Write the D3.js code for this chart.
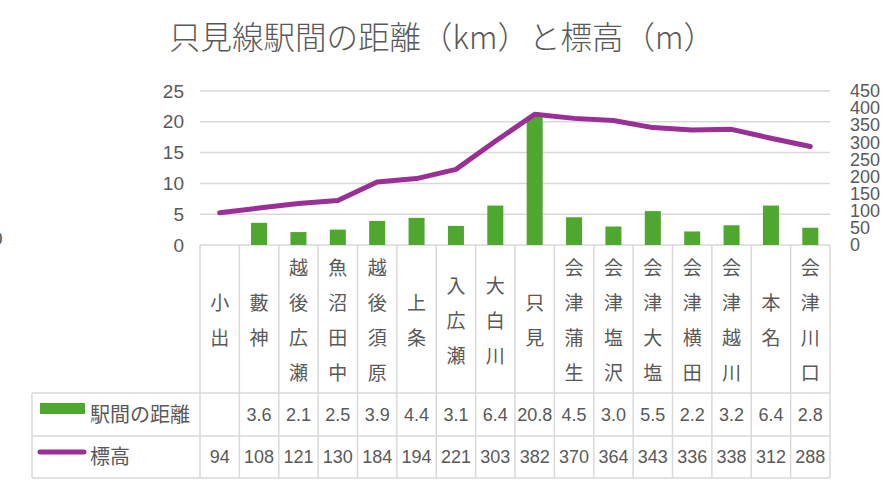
<html>
<head>
<meta charset="utf-8">
<script src="https://cdn.jsdelivr.net/npm/d3@7"></script>
<style>
  body { margin: 0; background: #fff; }
  text { fill: #595959; }
</style>
</head>
<body>
<div id="chart"></div>
<script>
var stations = ["小出","藪神","越後広瀬","魚沼田中","越後須原","上条","入広瀬","大白川","只見","会津蒲生","会津塩沢","会津大塩","会津横田","会津越川","本名","会津川口"];
var distance = [null,3.6,2.1,2.5,3.9,4.4,3.1,6.4,20.8,4.5,3.0,5.5,2.2,3.2,6.4,2.8];
var elevation = [94,108,121,130,184,194,221,303,382,370,364,343,336,338,312,288];
var leftTicks = [0,5,10,15,20,25];
var rightTicks = [0,50,100,150,200,250,300,350,400,450];

var W = 886, H = 483;
var green = "#4ea72e", purple = "#9a2f96", gridc = "#d9d9d9";
var jp = "'Noto Sans CJK JP', sans-serif", lat = "'Liberation Sans', Arial, sans-serif";

var svg = d3.select("#chart").append("svg").attr("width", W).attr("height", H);

var x = d3.scaleBand().domain(stations).range([200, 830]);
var yL = d3.scaleLinear().domain([0, 25]).range([245, 91]);
var yR = d3.scaleLinear().domain([0, 450]).range([245, 91]);

// title
svg.append("text").attr("x", 442).attr("y", 49).attr("text-anchor", "middle")
  .style("font-family", jp).style("font-size", "31.5px").style("font-weight", 300)
  .text("只見線駅間の距離（km）と標高（m）");

// stray clipped label at left edge
svg.append("text").attr("x", -8).attr("y", 245)
  .style("font-family", lat).style("font-size", "19px").text("0");

// gridlines
svg.append("g").selectAll("line").data(leftTicks).enter().append("line")
  .attr("x1", 200).attr("x2", 830)
  .attr("y1", function(d){ return yL(d); }).attr("y2", function(d){ return yL(d); })
  .attr("stroke", gridc).attr("stroke-width", 1.5);

// left axis
var axL = svg.append("g").attr("transform", "translate(190,0)")
  .call(d3.axisLeft(yL).tickValues(leftTicks).tickSize(0).tickPadding(6));
axL.select(".domain").remove();
axL.selectAll("text").style("font-family", lat).style("font-size", "19px").style("fill", "#595959");

// right axis
var axR = svg.append("g").attr("transform", "translate(850,0)")
  .call(d3.axisRight(yR).tickValues(rightTicks).tickSize(0).tickPadding(0));
axR.select(".domain").remove();
axR.selectAll("text").style("font-family", lat).style("font-size", "18px").style("fill", "#595959");

// bars
svg.append("g").selectAll("rect").data(stations).enter()
  .filter(function(d, i){ return distance[i] != null; })
  .append("rect")
  .attr("x", function(d){ return x(d) + x.bandwidth()/2 - 8; })
  .attr("width", 16)
  .attr("y", function(d){ return yL(distance[stations.indexOf(d)]); })
  .attr("height", function(d){ return yL(0) - yL(distance[stations.indexOf(d)]); })
  .attr("fill", green);

// line
var line = d3.line()
  .x(function(d, i){ return x(stations[i]) + x.bandwidth()/2; })
  .y(function(d){ return yR(d); });
svg.append("path").datum(elevation).attr("d", line)
  .attr("fill", "none").attr("stroke", purple).attr("stroke-width", 5)
  .attr("stroke-linecap", "round").attr("stroke-linejoin", "round");

// data table
var rowTop = 245, rowHead = 393, rowMid = 436, rowBot = 478, legL = 32;
var tg = svg.append("g").attr("stroke", gridc).attr("stroke-width", 1.5);
var edges = stations.map(function(d){ return x(d); }).concat([830]);
tg.selectAll("line.v").data(edges).enter().append("line")
  .attr("x1", function(d){ return d; }).attr("x2", function(d){ return d; })
  .attr("y1", rowTop).attr("y2", rowBot);
tg.append("line").attr("x1", legL).attr("x2", legL).attr("y1", rowHead).attr("y2", rowBot);
[rowHead, rowMid, rowBot].forEach(function(yy){
  tg.append("line").attr("x1", legL).attr("x2", 830).attr("y1", yy).attr("y2", yy);
});

// vertical station names
var lh = 35;
stations.forEach(function(s, i){
  var chars = s.split("");
  var cy = (rowTop + rowHead)/2 - (chars.length - 1) * lh / 2;
  chars.forEach(function(c, j){
    svg.append("text").attr("x", x(s) + x.bandwidth()/2).attr("y", cy + j*lh)
      .attr("text-anchor", "middle").attr("dominant-baseline", "central")
      .style("font-family", jp).style("font-size", "19px").text(c);
  });
});

// values
svg.append("g").selectAll("text").data(distance).enter().append("text")
  .attr("x", function(d, i){ return x(stations[i]) + x.bandwidth()/2; })
  .attr("y", (rowHead + rowMid)/2).attr("dy", "0.35em").attr("text-anchor", "middle")
  .style("font-family", lat).style("font-size", "18px")
  .text(function(d){ return d == null ? "" : d.toFixed(1); });
svg.append("g").selectAll("text").data(elevation).enter().append("text")
  .attr("x", function(d, i){ return x(stations[i]) + x.bandwidth()/2; })
  .attr("y", (rowMid + rowBot)/2).attr("dy", "0.35em").attr("text-anchor", "middle")
  .style("font-family", lat).style("font-size", "18px")
  .text(function(d){ return d; });

// legend keys
svg.append("rect").attr("x", 40).attr("y", 403).attr("width", 45).attr("height", 11).attr("fill", green);
svg.append("text").attr("x", 90).attr("y", (rowHead + rowMid)/2).attr("dy", "0.35em")
  .style("font-family", jp).style("font-size", "20px").text("駅間の距離");
svg.append("line").attr("x1", 40).attr("x2", 84).attr("y1", 452).attr("y2", 452)
  .attr("stroke", purple).attr("stroke-width", 5).attr("stroke-linecap", "round");
svg.append("text").attr("x", 90).attr("y", (rowMid + rowBot)/2).attr("dy", "0.35em")
  .style("font-family", jp).style("font-size", "20px").text("標高");
</script>
</body>
</html>
